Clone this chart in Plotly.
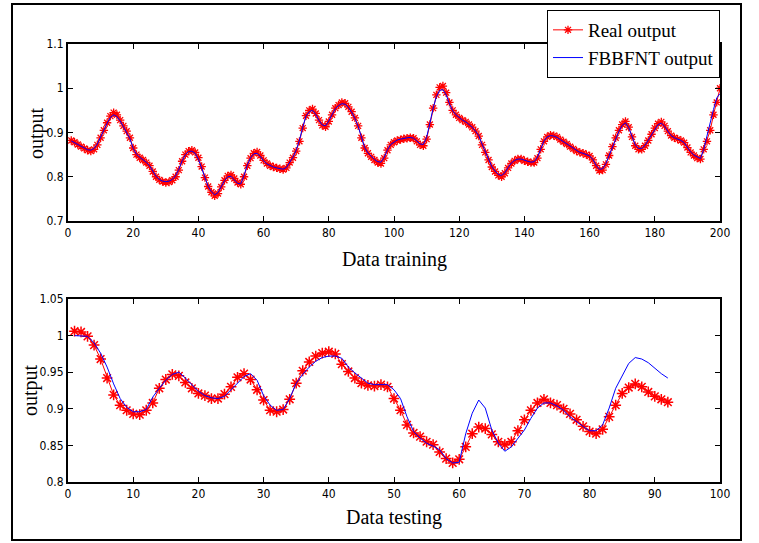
import plotly.graph_objects as go

# ---------------- data ----------------
train_x = list(range(1, 201))
train_real = [
    0.882, 0.878, 0.873, 0.868, 0.864, 0.860, 0.858, 0.862, 0.872, 0.888,
    0.905, 0.922, 0.937, 0.945, 0.940, 0.928, 0.915, 0.903, 0.888, 0.865,
    0.850, 0.843, 0.838, 0.832, 0.825, 0.812, 0.800, 0.793, 0.789, 0.787,
    0.788, 0.792, 0.800, 0.815, 0.835, 0.850, 0.858, 0.860, 0.855, 0.843,
    0.823, 0.798, 0.778, 0.765, 0.757, 0.762, 0.777, 0.792, 0.802, 0.804,
    0.796, 0.787, 0.783, 0.800, 0.825, 0.842, 0.853, 0.856, 0.848, 0.837,
    0.830, 0.825, 0.822, 0.820, 0.818, 0.816, 0.820, 0.832, 0.843, 0.858,
    0.880, 0.910, 0.938, 0.950, 0.953, 0.943, 0.928, 0.916, 0.913, 0.925,
    0.940, 0.955, 0.962, 0.968, 0.966, 0.958, 0.947, 0.933, 0.915, 0.888,
    0.865, 0.853, 0.845, 0.838, 0.832, 0.830, 0.842, 0.860, 0.872, 0.878,
    0.882, 0.884, 0.886, 0.887, 0.888, 0.887, 0.880, 0.872, 0.870, 0.885,
    0.918, 0.955, 0.985, 1.002, 1.005, 0.990, 0.968, 0.950, 0.940, 0.933,
    0.928, 0.924, 0.918, 0.912, 0.903, 0.892, 0.872, 0.855, 0.838, 0.822,
    0.812, 0.803, 0.800, 0.808, 0.820, 0.830, 0.836, 0.840, 0.840, 0.836,
    0.834, 0.832, 0.832, 0.842, 0.862, 0.880, 0.890, 0.894, 0.893, 0.890,
    0.884, 0.879, 0.874, 0.868, 0.863, 0.858, 0.855, 0.853, 0.850, 0.847,
    0.838, 0.825, 0.814, 0.815, 0.828, 0.848, 0.868, 0.888, 0.905, 0.918,
    0.925, 0.912, 0.890, 0.870, 0.862, 0.862, 0.870, 0.882, 0.896, 0.910,
    0.920, 0.924, 0.915, 0.903, 0.893, 0.888, 0.885, 0.882, 0.877, 0.866,
    0.855, 0.848, 0.842, 0.840, 0.862, 0.880, 0.905, 0.940, 0.968, 1.000,
]
train_model = [
    0.881, 0.877, 0.872, 0.868, 0.864, 0.861, 0.860, 0.864, 0.874, 0.890,
    0.906, 0.921, 0.934, 0.940, 0.936, 0.926, 0.913, 0.900, 0.886, 0.864,
    0.851, 0.844, 0.839, 0.833, 0.825, 0.813, 0.801, 0.794, 0.790, 0.789,
    0.790, 0.794, 0.802, 0.817, 0.836, 0.850, 0.857, 0.858, 0.853, 0.840,
    0.820, 0.797, 0.778, 0.766, 0.759, 0.764, 0.778, 0.791, 0.800, 0.801,
    0.793, 0.785, 0.784, 0.803, 0.827, 0.843, 0.852, 0.853, 0.846, 0.836,
    0.829, 0.825, 0.822, 0.820, 0.818, 0.817, 0.821, 0.832, 0.844, 0.860,
    0.883, 0.912, 0.937, 0.947, 0.950, 0.941, 0.927, 0.917, 0.915, 0.926,
    0.941, 0.954, 0.961, 0.965, 0.964, 0.957, 0.946, 0.932, 0.914, 0.887,
    0.866, 0.854, 0.846, 0.839, 0.834, 0.833, 0.844, 0.861, 0.873, 0.879,
    0.883, 0.885, 0.887, 0.888, 0.889, 0.887, 0.881, 0.874, 0.873, 0.889,
    0.921, 0.955, 0.981, 0.995, 0.997, 0.985, 0.965, 0.949, 0.940, 0.933,
    0.928, 0.924, 0.918, 0.912, 0.903, 0.893, 0.874, 0.856, 0.839, 0.823,
    0.813, 0.805, 0.803, 0.809, 0.821, 0.831, 0.837, 0.840, 0.840, 0.837,
    0.835, 0.833, 0.834, 0.844, 0.864, 0.881, 0.890, 0.893, 0.892, 0.889,
    0.884, 0.879, 0.874, 0.868, 0.863, 0.858, 0.855, 0.853, 0.850, 0.847,
    0.839, 0.826, 0.817, 0.818, 0.830, 0.849, 0.868, 0.887, 0.903, 0.916,
    0.922, 0.911, 0.890, 0.872, 0.864, 0.864, 0.871, 0.883, 0.896, 0.909,
    0.918, 0.921, 0.914, 0.903, 0.893, 0.888, 0.885, 0.882, 0.877, 0.866,
    0.856, 0.849, 0.844, 0.841, 0.862, 0.893, 0.925, 0.952, 0.978, 0.988,
]

test_x = list(range(1, 93))
test_real = [
    1.006, 1.005, 0.999, 0.987, 0.968, 0.942, 0.919, 0.905, 0.898, 0.893,
    0.892, 0.898, 0.908, 0.928, 0.940, 0.947, 0.945, 0.936, 0.928, 0.921,
    0.918, 0.914, 0.914, 0.920, 0.930, 0.943, 0.948, 0.940, 0.926, 0.912,
    0.898, 0.896, 0.899, 0.913, 0.935, 0.952, 0.964, 0.972, 0.976, 0.978,
    0.975, 0.961, 0.951, 0.942, 0.935, 0.932, 0.931, 0.933, 0.930, 0.914,
    0.898, 0.878, 0.867, 0.862, 0.855, 0.851, 0.841, 0.832, 0.826, 0.831,
    0.848, 0.866, 0.875, 0.873, 0.865, 0.855, 0.851, 0.855, 0.870, 0.885,
    0.898, 0.908, 0.913, 0.908, 0.905, 0.900, 0.893, 0.885, 0.876, 0.869,
    0.866, 0.872, 0.889, 0.905, 0.921, 0.929, 0.934, 0.930, 0.923, 0.917,
    0.913, 0.909,
]
test_model = [
    1.000, 1.000, 0.999, 0.990, 0.976, 0.957, 0.934, 0.914, 0.902, 0.896,
    0.896, 0.899, 0.916, 0.928, 0.939, 0.947, 0.950, 0.942, 0.933, 0.924,
    0.918, 0.915, 0.914, 0.917, 0.926, 0.935, 0.944, 0.948, 0.939, 0.918,
    0.905, 0.898, 0.899, 0.914, 0.935, 0.947, 0.957, 0.965, 0.970, 0.972,
    0.972, 0.969, 0.957, 0.949, 0.942, 0.935, 0.933, 0.933, 0.933, 0.926,
    0.914, 0.889, 0.869, 0.860, 0.853, 0.849, 0.844, 0.832, 0.826, 0.827,
    0.866, 0.894, 0.912, 0.901, 0.871, 0.853, 0.842, 0.848, 0.860, 0.871,
    0.887, 0.901, 0.908, 0.908, 0.904, 0.898, 0.889, 0.882, 0.876, 0.870,
    0.870, 0.878, 0.901, 0.928, 0.944, 0.962, 0.970, 0.968, 0.963, 0.955,
    0.948, 0.942,
]

top_xticks = [0, 20, 40, 60, 80, 100, 120, 140, 160, 180, 200]
top_yticks = [0.7, 0.8, 0.9, 1.0, 1.1]
top_ytext = ["0.7", "0.8", "0.9", "1", "1.1"]
bot_xticks = [0, 10, 20, 30, 40, 50, 60, 70, 80, 90, 100]
bot_yticks = [0.8, 0.85, 0.9, 0.95, 1.0, 1.05]
bot_ytext = ["0.8", "0.85", "0.9", "0.95", "1", "1.05"]

# ---------------- figure ----------------
W, H = 759, 543
RED = "#ff0000"
BLUE = "#0000ff"
SERIF = "Liberation Serif, Times New Roman, serif"
NARROW = "Liberation Sans Narrow, Arial Narrow, DejaVu Sans Condensed, Liberation Sans, sans-serif"

fig = go.Figure()
fig.add_trace(go.Scatter(
    x=train_x, y=train_real, mode="lines+markers", name="Real output",
    line=dict(color=RED, width=1),
    marker=dict(symbol="asterisk-open", size=7, color=RED, line=dict(color=RED, width=1.3)),
    xaxis="x", yaxis="y",
))
fig.add_trace(go.Scatter(
    x=train_x, y=train_model, mode="lines", name="FBBFNT output",
    line=dict(color=BLUE, width=1), xaxis="x", yaxis="y",
))
fig.add_trace(go.Scatter(
    x=test_x, y=test_real, mode="lines+markers", name="Real output", showlegend=False,
    line=dict(color=RED, width=1),
    marker=dict(symbol="asterisk-open", size=9, color=RED, line=dict(color=RED, width=1.5)),
    xaxis="x2", yaxis="y2",
))
fig.add_trace(go.Scatter(
    x=test_x, y=test_model, mode="lines", name="FBBFNT output", showlegend=False,
    line=dict(color=BLUE, width=1), xaxis="x2", yaxis="y2",
))

xd = [68 / W, 720 / W]
ax_common = dict(
    showline=True, linecolor="black", linewidth=2, mirror="allticks",
    ticks="inside", ticklen=5, tickwidth=1.2, tickcolor="black",
    showgrid=False, zeroline=False, automargin=False,
    tickfont=dict(family=NARROW, size=12, color="black"),
)

fig.update_layout(
    template="none",
    autosize=False,
    width=W, height=H,
    margin=dict(l=0, r=0, t=0, b=0, pad=0, autoexpand=False),
    paper_bgcolor="white", plot_bgcolor="white",
    xaxis=dict(domain=xd, anchor="y", range=[0, 200], tickvals=top_xticks, **ax_common),
    yaxis=dict(domain=[(H - 221) / H, (H - 44) / H], anchor="x", range=[0.7, 1.1],
               tickvals=top_yticks, ticktext=top_ytext, **ax_common),
    xaxis2=dict(domain=xd, anchor="y2", range=[0, 100], tickvals=bot_xticks, **ax_common),
    yaxis2=dict(domain=[(H - 482) / H, (H - 299) / H], anchor="x2", range=[0.8, 1.05],
                tickvals=bot_yticks, ticktext=bot_ytext, **ax_common),
    legend=dict(
        x=720 / W, y=(H - 10) / H, xanchor="right", yanchor="top",
        bgcolor="white", bordercolor="black", borderwidth=1,
        font=dict(family=SERIF, size=19, color="black"),
        tracegroupgap=0,
    ),
    shapes=[dict(type="rect", xref="paper", yref="paper",
                 x0=12 / W, x1=741 / W, y0=(H - 540) / H, y1=(H - 4) / H,
                 line=dict(color="black", width=2))],
    annotations=[
        dict(text="output", xref="paper", yref="paper", x=36 / W, y=(H - 133) / H,
             textangle=-90, showarrow=False, font=dict(family=SERIF, size=20, color="black"),
             xanchor="center", yanchor="middle"),
        dict(text="output", xref="paper", yref="paper", x=31 / W, y=(H - 390) / H,
             textangle=-90, showarrow=False, font=dict(family=SERIF, size=20, color="black"),
             xanchor="center", yanchor="middle"),
        dict(text="Data training", xref="paper", yref="paper", x=394 / W, y=(H - 259) / H,
             showarrow=False, font=dict(family=SERIF, size=20, color="black"),
             xanchor="center", yanchor="middle"),
        dict(text="Data testing", xref="paper", yref="paper", x=394 / W, y=(H - 517) / H,
             showarrow=False, font=dict(family=SERIF, size=20, color="black"),
             xanchor="center", yanchor="middle"),
    ],
)

fig.write_html("out.html")
